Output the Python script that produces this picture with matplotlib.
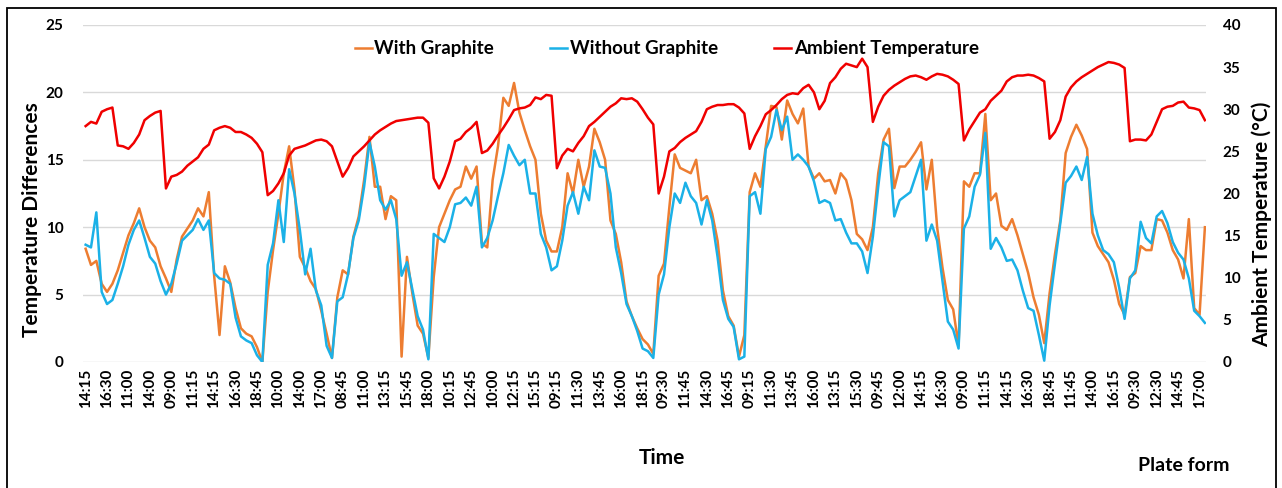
import numpy as np
import matplotlib
matplotlib.use("Agg")
import matplotlib.pyplot as plt
from matplotlib.patches import Rectangle

plt.rcParams['font.family'] = ['Lato', 'DejaVu Sans']
plt.rcParams['font.weight'] = 'bold'

# Time-axis labels (one label every 4 samples)
time_labels = ["14:15", "16:30", "11:00", "14:00", "09:00", "11:15", "14:15", "16:30", "18:45",
               "10:00", "14:00", "17:00", "08:45", "11:00", "13:15", "15:45", "18:00", "10:15",
               "12:45", "10:00", "12:15", "15:15", "09:15", "11:30", "13:45", "16:00", "18:15",
               "09:30", "11:45", "14:30", "16:45", "09:15", "11:30", "13:45", "16:00", "13:15",
               "15:30", "09:45", "12:00", "14:15", "16:30", "09:00", "11:15", "14:15", "16:30",
               "18:45", "11:45", "14:00", "16:15", "09:30", "12:30", "14:45", "17:00"]

# Temperature difference with graphite (°C)
with_graphite = [
    8.4, 7.2, 7.5, 5.8, 5.2, 5.8, 6.8, 8.1, 9.4, 10.3,
    11.4, 10.0, 9.0, 8.5, 7.1, 6.2, 5.2, 7.6, 9.3, 9.9,
    10.5, 11.4, 10.8, 12.6, 6.4, 2.0, 7.1, 5.9, 4.0, 2.5,
    2.1, 1.9, 1.1, 0.0, 5.2, 8.3, 11.0, 14.0, 16.0, 12.8,
    7.8, 7.0, 6.0, 5.4, 3.8, 2.1, 0.3, 4.8, 6.8, 6.5,
    9.3, 10.8, 13.5, 16.7, 13.0, 13.0, 10.6, 12.3, 12.0, 0.4,
    7.8, 5.1, 2.7, 2.1, 0.3, 6.3, 10.0, 11.0, 12.0, 12.8,
    13.0, 14.5, 13.6, 14.5, 8.8, 8.5, 13.5, 16.0, 19.6, 19.0,
    20.7, 18.5, 17.2, 16.0, 15.0, 11.0, 9.0, 8.2, 8.2, 10.0,
    14.0, 12.5, 15.0, 13.0, 14.5, 17.3, 16.3, 15.0, 10.5, 9.5,
    7.4, 4.5, 3.4, 2.5, 1.7, 1.3, 0.6, 6.4, 7.3, 11.5,
    15.4, 14.4, 14.2, 14.0, 15.0, 12.0, 12.3, 11.0, 9.0, 5.3,
    3.4, 2.7, 0.4, 2.0, 12.6, 14.0, 13.0, 16.0, 19.0, 18.9,
    16.5, 19.4, 18.4, 17.7, 18.8, 14.5, 13.6, 14.0, 13.4, 13.5,
    12.5, 14.0, 13.5, 12.0, 9.5, 9.1, 8.3, 10.0, 14.0, 16.5,
    17.3, 12.9, 14.5, 14.5, 15.0, 15.6, 16.3, 12.8, 15.0, 10.0,
    7.0, 4.6, 3.9, 1.2, 13.4, 13.0, 14.0, 14.0, 18.4, 12.0,
    12.5, 10.1, 9.8, 10.6, 9.4, 8.0, 6.6, 4.8, 3.5, 1.4,
    5.1, 8.0, 10.5, 15.5, 16.7, 17.6, 16.8, 15.8, 9.6, 8.6,
    8.0, 7.4, 6.1, 4.3, 3.5, 6.3, 6.6, 8.6, 8.3, 8.3,
    10.6, 10.5, 9.6, 8.3, 7.6, 6.2, 10.6, 4.0, 3.5, 10.0,
]

# Temperature difference without graphite (°C)
without_graphite = [
    8.7, 8.5, 11.1, 5.2, 4.3, 4.6, 5.8, 7.1, 8.7, 9.8,
    10.5, 9.2, 7.8, 7.3, 6.0, 5.0, 5.8, 7.3, 9.0, 9.4,
    9.8, 10.6, 9.8, 10.5, 6.6, 6.2, 6.1, 5.8, 3.3, 1.9,
    1.6, 1.4, 0.5, 0.0, 7.2, 8.8, 12.0, 8.9, 14.3, 12.5,
    9.8, 6.5, 8.4, 5.3, 4.2, 1.2, 0.3, 4.5, 4.8, 6.5,
    9.2, 10.5, 13.0, 16.3, 14.5, 12.0, 11.3, 12.0, 10.6, 6.4,
    7.4, 5.4, 3.4, 2.4, 0.2, 9.5, 9.2, 8.9, 10.0, 11.7,
    11.8, 12.2, 11.6, 13.0, 8.5, 9.2, 10.5, 12.3, 14.0, 16.1,
    15.3, 14.6, 15.0, 12.5, 12.5, 9.5, 8.5, 6.8, 7.1, 9.0,
    11.6, 12.6, 11.0, 13.0, 12.0, 15.7, 14.5, 14.4, 12.5, 8.5,
    6.6, 4.3, 3.4, 2.3, 1.0, 0.8, 0.3, 5.0, 6.5, 10.0,
    12.5, 11.8, 13.3, 12.3, 11.8, 10.2, 12.0, 10.5, 7.8, 4.6,
    3.2, 2.6, 0.2, 0.4, 12.3, 12.6, 11.0, 15.8, 16.7, 18.7,
    17.2, 18.2, 15.0, 15.4, 15.0, 14.5, 13.4, 11.8, 12.0, 11.8,
    10.5, 10.6, 9.6, 8.8, 8.8, 8.2, 6.6, 9.3, 13.0, 16.3,
    16.0, 10.8, 12.0, 12.3, 12.6, 13.8, 15.0, 9.0, 10.2, 9.0,
    6.0, 3.0, 2.4, 1.0, 9.9, 10.8, 13.0, 13.9, 17.0, 8.4,
    9.2, 8.5, 7.5, 7.6, 6.8, 5.3, 4.0, 3.8, 2.0, 0.1,
    4.2, 7.3, 10.3, 13.3, 13.8, 14.5, 13.5, 15.2, 11.0, 9.4,
    8.3, 8.0, 7.4, 5.5, 3.2, 6.2, 6.8, 10.4, 9.2, 8.8,
    10.8, 11.2, 10.3, 8.9, 8.1, 7.6, 6.2, 3.8, 3.4, 2.9,
]

# Ambient temperature (°C)
ambient = [
    28.0, 28.5, 28.3, 29.7, 30.0, 30.2, 25.7, 25.6, 25.3, 26.0,
    27.0, 28.7, 29.2, 29.6, 29.8, 20.6, 22.0, 22.2, 22.6, 23.3,
    23.8, 24.3, 25.3, 25.8, 27.5, 27.8, 28.0, 27.8, 27.3, 27.3,
    27.0, 26.6, 25.9, 24.9, 19.8, 20.3, 21.2, 22.4, 24.5, 25.3,
    25.5, 25.7, 26.0, 26.3, 26.4, 26.2, 25.6, 23.8, 22.0, 23.0,
    24.4, 25.0, 25.6, 26.3, 27.0, 27.5, 27.9, 28.3, 28.6, 28.7,
    28.8, 28.9, 29.0, 29.0, 28.4, 21.8, 20.6, 22.0, 23.8, 26.2,
    26.5, 27.3, 27.8, 28.5, 24.8, 25.1, 25.9, 26.9, 27.8, 28.8,
    29.9, 30.1, 30.2, 30.5, 31.4, 31.2, 31.7, 31.6, 23.0, 24.5,
    25.3, 25.0, 26.0, 26.8, 28.0, 28.5, 29.1, 29.7, 30.3, 30.7,
    31.3, 31.2, 31.3, 30.9, 30.0, 29.0, 28.2, 20.0, 22.0, 25.0,
    25.4, 26.1, 26.6, 27.0, 27.4, 28.5, 30.0, 30.3, 30.5, 30.5,
    30.6, 30.6, 30.2, 29.5, 25.3, 26.8, 28.0, 29.4, 29.9, 30.5,
    31.2, 31.7, 31.9, 31.8, 32.5, 32.9, 32.0, 30.0, 31.0, 33.1,
    33.8, 34.8, 35.4, 35.2, 35.0, 36.0, 35.0, 28.5, 30.3, 31.6,
    32.3, 32.8, 33.2, 33.6, 33.9, 34.0, 33.8, 33.5, 33.9, 34.2,
    34.1, 33.9, 33.5, 33.0, 26.3, 27.6, 28.6, 29.6, 30.0, 31.0,
    31.6, 32.2, 33.3, 33.8, 34.0, 34.0, 34.1, 34.0, 33.7, 33.3,
    26.5, 27.3, 28.7, 31.5, 32.6, 33.3, 33.8, 34.2, 34.6, 35.0,
    35.3, 35.6, 35.5, 35.3, 34.9, 26.2, 26.4, 26.4, 26.3, 27.0,
    28.5, 30.0, 30.3, 30.4, 30.8, 30.9, 30.2, 30.1, 29.9, 28.7,
]

ORANGE = "#ED7D31"
BLUE = "#1BB1E7"
RED = "#F00000"

n = len(ambient)
x = np.arange(n)

fig = plt.figure(figsize=(12.82, 4.88), dpi=100)
ax = fig.add_axes([0.0647, 0.2582, 0.8760, 0.6906])
ax2 = ax.twinx()

l1, = ax.plot(x, with_graphite, color=ORANGE, lw=1.8, label="With Graphite")
l2, = ax.plot(x, without_graphite, color=BLUE, lw=1.8, label="Without Graphite")
l3, = ax2.plot(x, ambient, color=RED, lw=1.8, label="Ambient Temperature")

ax.set_ylim(0, 25)
ax.set_yticks(np.arange(0, 26, 5))
ax2.set_ylim(0, 40)
ax2.set_yticks(np.arange(0, 41, 5))
ax.set_xlim(-0.5, n - 0.8)
ax.set_xticks(np.arange(0, n, 4))
ax.set_xticklabels(time_labels, rotation=90, fontsize=11, fontweight='bold')

ax.grid(axis='y', color='#D9D9D9', lw=1.0)
ax.set_axisbelow(True)
for a in (ax, ax2):
    for s in a.spines.values():
        s.set_visible(False)
    a.tick_params(length=0)
ax.tick_params(axis='y', labelsize=11, pad=14)
ax2.tick_params(axis='y', labelsize=11, pad=12)
ax.tick_params(axis='x', pad=5)
for lab in ax.get_yticklabels() + ax2.get_yticklabels():
    lab.set_fontweight('bold')

leg = ax.legend(handles=[l1, l2, l3], loc='upper center', bbox_to_anchor=(0.52, 1.005),
                ncol=3, frameon=False, handlelength=0.9, handletextpad=0.15,
                columnspacing=3.0, prop={'size': 13.5, 'weight': 'bold'})

fig.text(0.025, 0.55, "Temperature Differences", rotation=90, ha='center', va='center',
         fontsize=15, fontweight='bold')
fig.text(0.984, 0.54, "Ambient Temperature (°C)", rotation=90, ha='center', va='center',
         fontsize=15, fontweight='bold')
fig.text(0.516, 0.061, "Time", ha='center', va='center', fontsize=15, fontweight='bold')
fig.text(0.923, 0.047, "Plate form", ha='center', va='center', fontsize=14, fontweight='bold')

fig.patches.append(Rectangle((7 / 1282, -0.02), 1269 / 1282, 1 - 8 / 488 + 0.02,
                             transform=fig.transFigure, fill=False, edgecolor='black',
                             lw=1.3, zorder=10))

fig.savefig("out.png", dpi=100, facecolor='white')
